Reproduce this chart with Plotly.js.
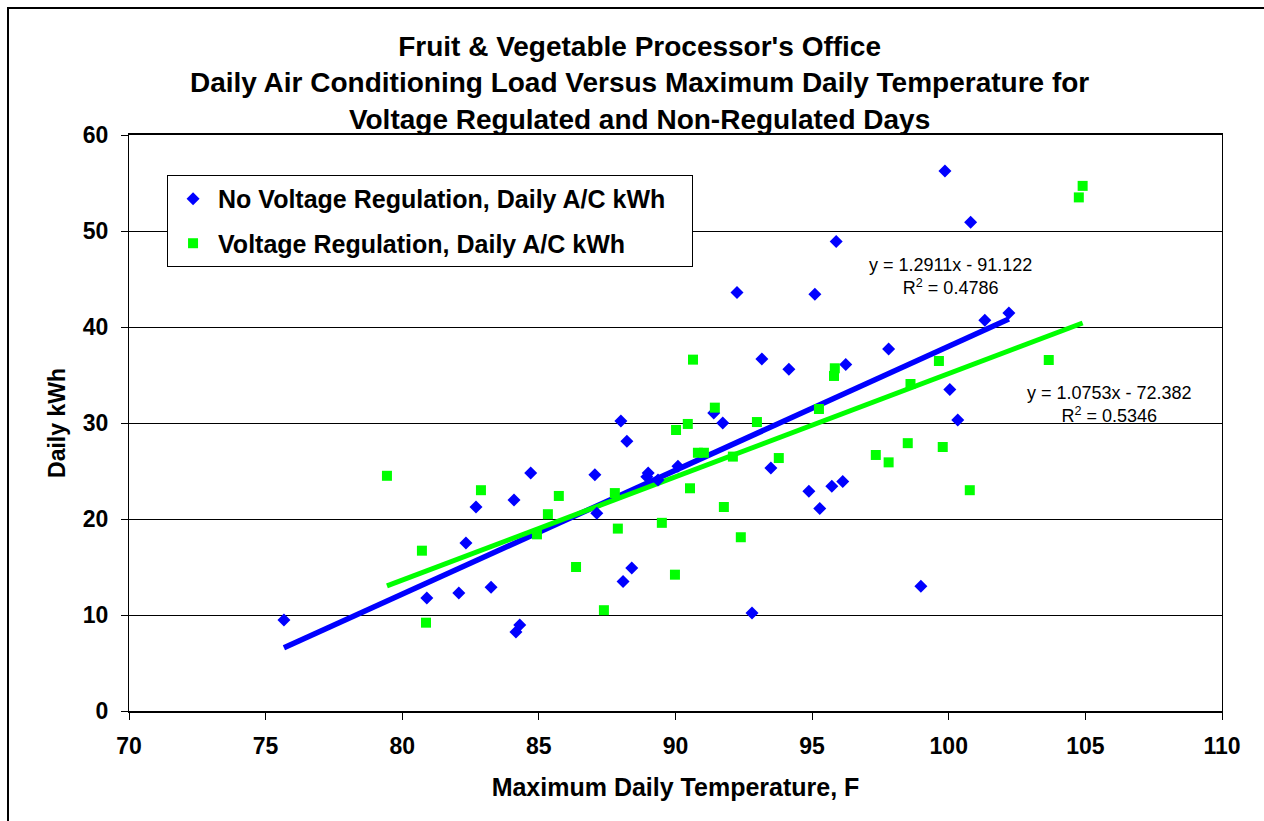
<!DOCTYPE html>
<html>
<head>
<meta charset="utf-8">
<script src="https://cdn.plot.ly/plotly-3.0.1.min.js"></script>
<style>html,body{margin:0;padding:0;background:#fff;}#chart{width:1264px;height:821px;}</style>
</head>
<body>
<div id="chart"></div>
<script>
// ---- data ----
const blueName = "No Voltage Regulation, Daily A/C kWh";
const greenName = "Voltage Regulation, Daily A/C kWh";

const blueX = [75.67, 80.9, 82.07, 82.33, 82.7, 83.25, 84.09, 84.16, 84.3, 84.7, 87.05, 87.12, 88.0, 88.08, 88.22, 88.4, 88.95, 89.0, 89.36, 90.09, 91.4, 91.73, 92.25, 92.8, 93.16, 93.49, 94.15, 94.88, 95.1, 95.28, 95.72, 95.88, 96.12, 96.23, 97.8, 98.98, 99.86, 100.04, 100.33, 100.8, 101.32, 102.2];
const blueY = [9.48, 11.77, 12.3, 17.5, 21.25, 12.9, 21.98, 8.23, 8.96, 24.8, 24.6, 20.6, 30.2, 13.5, 28.1, 14.9, 24.4, 24.8, 24.06, 25.5, 31.04, 30.0, 43.6, 10.2, 36.67, 25.3, 35.6, 22.9, 43.4, 21.1, 23.4, 48.9, 23.9, 36.1, 37.7, 13.0, 56.25, 33.5, 30.3, 50.9, 40.7, 41.45];

const greenX = [79.44, 80.72, 80.87, 82.88, 84.93, 85.33, 85.73, 86.36, 87.38, 87.78, 87.89, 89.5, 89.98, 90.02, 90.45, 90.53, 90.64, 90.82, 91.04, 91.44, 91.77, 92.1, 92.39, 92.98, 93.78, 95.25, 95.8, 95.83, 97.33, 97.8, 98.5, 98.6, 99.64, 99.78, 100.77, 103.66, 104.76, 104.9];
const greenY = [24.5, 16.7, 9.2, 23.0, 18.4, 20.5, 22.4, 15.0, 10.5, 22.7, 19.0, 19.6, 14.2, 29.27, 29.9, 23.2, 36.6, 26.9, 26.9, 31.6, 21.25, 26.5, 18.1, 30.1, 26.35, 31.46, 34.9, 35.7, 26.67, 25.9, 27.9, 34.06, 36.46, 27.5, 23.0, 36.56, 53.5, 54.7];

// trendline equations printed on the chart
const blueSlope = 1.2911, blueIntercept = -91.122, blueR2 = "0.4786";
const greenSlope = 1.0753, greenIntercept = -72.382, greenR2 = "0.5346";

const xTicks = [70, 75, 80, 85, 90, 95, 100, 105, 110];
const yTicks = [0, 10, 20, 30, 40, 50, 60];

// ---- build ----
function trend(xs, m, b) {
  const x0 = Math.min(...xs), x1 = Math.max(...xs);
  return {x: [x0, x1], y: [m * x0 + b, m * x1 + b]};
}
const bt = trend(blueX, blueSlope, blueIntercept);
const gt = trend(greenX, greenSlope, greenIntercept);

const F = "Liberation Sans, Arial, sans-serif";
const pad = "\u00a0\u00a0\u00a0"; // extra room at the right of the legend box

const traces = [
  {x: bt.x, y: bt.y, mode: "lines", line: {color: "#0000FF", width: 5.5}, showlegend: false, hoverinfo: "skip"},
  {x: gt.x, y: gt.y, mode: "lines", line: {color: "#00FF00", width: 5}, showlegend: false, hoverinfo: "skip"},
  {x: blueX, y: blueY, mode: "markers", name: blueName + pad, legendgroup: "a",
   marker: {symbol: "diamond", size: 10, color: "#0000FF"}},
  {x: greenX, y: greenY, mode: "markers", name: greenName, legendgroup: "b",
   marker: {symbol: "square", size: 10, color: "#00FF00"}}
];

const fmt = (m, b) => "y = " + m.toFixed(4) + "x - " + Math.abs(b).toFixed(3);

const layout = {
  width: 1264, height: 821,
  margin: {l: 129, r: 42, t: 135, b: 110},
  paper_bgcolor: "#fff", plot_bgcolor: "#fff",
  font: {family: F, color: "#000"},
  title: {
    text: "<b>Fruit & Vegetable Processor's Office<br>Daily Air Conditioning Load Versus Maximum Daily Temperature for<br>Voltage Regulated and Non-Regulated Days</b>",
    font: {family: F, size: 28, color: "#000"},
    x: 0.506, xref: "container", xanchor: "center",
    y: 0.932, yref: "container", yanchor: "top"
  },
  xaxis: {
    range: [70, 110], tickvals: xTicks, ticktext: xTicks.map(String),
    ticks: "outside", ticklen: 7, tickcolor: "#000", tickwidth: 1,
    showline: true, linecolor: "#000", linewidth: 2, mirror: true,
    showgrid: false, zeroline: false, ticklabelstandoff: 6,
    tickfont: {family: F, size: 23, color: "#000", weight: "bold"},
    title: {text: "<b>Maximum Daily Temperature, F</b>", font: {family: F, size: 25, color: "#000"}, standoff: 21}
  },
  yaxis: {
    range: [0, 60], tickvals: yTicks, ticktext: yTicks.map(String),
    ticks: "outside", ticklen: 7, tickcolor: "#000", tickwidth: 1,
    showline: true, linecolor: "#000", linewidth: 1, mirror: true,
    showgrid: true, gridcolor: "#000", gridwidth: 1, zeroline: false, ticklabelstandoff: 8,
    tickfont: {family: F, size: 23, color: "#000", weight: "bold"},
    title: {text: "<b>Daily kWh</b>", font: {family: F, size: 23, color: "#000"}, standoff: 10}
  },
  legend: {
    x: 0.0348, y: 0.9306, xanchor: "left", yanchor: "top",
    bgcolor: "#fff", bordercolor: "#000", borderwidth: 1,
    font: {family: F, size: 25, color: "#000", weight: "bold"},
    traceorder: "grouped", tracegroupgap: 9, itemwidth: 40
  },
  annotations: [
    {x: 100.08, y: 45.3, xref: "x", yref: "y", showarrow: false,
     text: fmt(blueSlope, blueIntercept) + "<br>R<sup>2</sup> = " + blueR2,
     font: {family: F, size: 18, color: "#000"}, align: "center"},
    {x: 105.9, y: 31.9, xref: "x", yref: "y", showarrow: false,
     text: fmt(greenSlope, greenIntercept) + "<br>R<sup>2</sup> = " + greenR2,
     font: {family: F, size: 18, color: "#000"}, align: "center"}
  ],
  shapes: [
    {type: "rect", xref: "paper", yref: "paper", x0: -0.1107, x1: 1.2, y0: -0.4, y1: 1.2205,
     line: {color: "#000", width: 2}, fillcolor: "rgba(0,0,0,0)", layer: "below"}
  ],
  showlegend: true
};

Plotly.newPlot("chart", traces, layout, {displayModeBar: false, staticPlot: true});
</script>
</body>
</html>
